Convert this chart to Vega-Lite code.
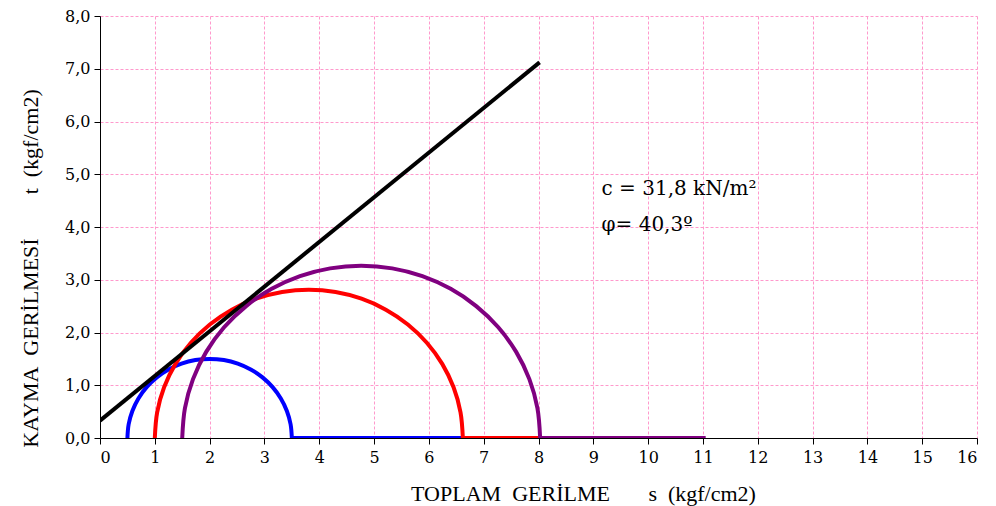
{
  "$schema": "https://vega.github.io/schema/vega-lite/v6.json",
  "width": 877,
  "height": 422,
  "autosize": {"type": "none"},
  "padding": {"left": 100, "top": 16, "right": 19, "bottom": 68},
  "background": "white",
  "config": {
    "view": {"stroke": null},
    "axis": {
      "labelColor": "#000",
      "titleColor": "#000",
      "titleFontWeight": "normal",
      "domainColor": "#000",
      "tickColor": "#000",
      "gridColor": "#ff99cc",
      "gridDash": [3, 2],
      "gridWidth": 1,
      "tickSize": 6
    }
  },
  "datasets": {
    "circles": [
      {"series": "A", "part": "A1", "i": 0, "s": 0.5, "t": 0},
      {"series": "A", "part": "A1", "i": 1, "s": 0.5228, "t": 0.2604},
      {"series": "A", "part": "A1", "i": 2, "s": 0.5905, "t": 0.513},
      {"series": "A", "part": "A1", "i": 3, "s": 0.701, "t": 0.75},
      {"series": "A", "part": "A1", "i": 4, "s": 0.851, "t": 0.9642},
      {"series": "A", "part": "A1", "i": 5, "s": 1.0358, "t": 1.149},
      {"series": "A", "part": "A1", "i": 6, "s": 1.25, "t": 1.299},
      {"series": "A", "part": "A1", "i": 7, "s": 1.487, "t": 1.4095},
      {"series": "A", "part": "A1", "i": 8, "s": 1.7396, "t": 1.4772},
      {"series": "A", "part": "A1", "i": 9, "s": 2.0, "t": 1.5},
      {"series": "A", "part": "A1", "i": 10, "s": 2.2604, "t": 1.4772},
      {"series": "A", "part": "A1", "i": 11, "s": 2.513, "t": 1.4095},
      {"series": "A", "part": "A1", "i": 12, "s": 2.75, "t": 1.299},
      {"series": "A", "part": "A1", "i": 13, "s": 2.9642, "t": 1.149},
      {"series": "A", "part": "A1", "i": 14, "s": 3.149, "t": 0.9642},
      {"series": "A", "part": "A1", "i": 15, "s": 3.299, "t": 0.75},
      {"series": "A", "part": "A1", "i": 16, "s": 3.4095, "t": 0.513},
      {"series": "A", "part": "A1", "i": 17, "s": 3.4772, "t": 0.2604},
      {"series": "A", "part": "A1", "i": 18, "s": 3.5, "t": 0},
      {"series": "A", "part": "A2", "i": 19, "s": 3.5, "t": 0},
      {"series": "A", "part": "A2", "i": 20, "s": 6.62, "t": 0},
      {"series": "B", "part": "B1", "i": 0, "s": 1.0, "t": 0},
      {"series": "B", "part": "B1", "i": 1, "s": 1.0427, "t": 0.4878},
      {"series": "B", "part": "B1", "i": 2, "s": 1.1694, "t": 0.961},
      {"series": "B", "part": "B1", "i": 3, "s": 1.3765, "t": 1.405},
      {"series": "B", "part": "B1", "i": 4, "s": 1.6575, "t": 1.8063},
      {"series": "B", "part": "B1", "i": 5, "s": 2.0037, "t": 2.1525},
      {"series": "B", "part": "B1", "i": 6, "s": 2.405, "t": 2.4335},
      {"series": "B", "part": "B1", "i": 7, "s": 2.849, "t": 2.6406},
      {"series": "B", "part": "B1", "i": 8, "s": 3.3222, "t": 2.7673},
      {"series": "B", "part": "B1", "i": 9, "s": 3.81, "t": 2.81},
      {"series": "B", "part": "B1", "i": 10, "s": 4.2978, "t": 2.7673},
      {"series": "B", "part": "B1", "i": 11, "s": 4.771, "t": 2.6406},
      {"series": "B", "part": "B1", "i": 12, "s": 5.215, "t": 2.4335},
      {"series": "B", "part": "B1", "i": 13, "s": 5.6163, "t": 2.1525},
      {"series": "B", "part": "B1", "i": 14, "s": 5.9625, "t": 1.8063},
      {"series": "B", "part": "B1", "i": 15, "s": 6.2435, "t": 1.405},
      {"series": "B", "part": "B1", "i": 16, "s": 6.4506, "t": 0.961},
      {"series": "B", "part": "B1", "i": 17, "s": 6.5773, "t": 0.4878},
      {"series": "B", "part": "B1", "i": 18, "s": 6.62, "t": 0},
      {"series": "B", "part": "B2", "i": 19, "s": 6.62, "t": 0},
      {"series": "B", "part": "B2", "i": 20, "s": 8.03, "t": 0},
      {"series": "C", "part": "C1", "i": 0, "s": 1.5, "t": 0},
      {"series": "C", "part": "C1", "i": 1, "s": 1.5496, "t": 0.5668},
      {"series": "C", "part": "C1", "i": 2, "s": 1.6969, "t": 1.1166},
      {"series": "C", "part": "C1", "i": 3, "s": 1.9375, "t": 1.6325},
      {"series": "C", "part": "C1", "i": 4, "s": 2.264, "t": 2.0987},
      {"series": "C", "part": "C1", "i": 5, "s": 2.6663, "t": 2.501},
      {"series": "C", "part": "C1", "i": 6, "s": 3.1325, "t": 2.8275},
      {"series": "C", "part": "C1", "i": 7, "s": 3.6484, "t": 3.0681},
      {"series": "C", "part": "C1", "i": 8, "s": 4.1982, "t": 3.2154},
      {"series": "C", "part": "C1", "i": 9, "s": 4.765, "t": 3.265},
      {"series": "C", "part": "C1", "i": 10, "s": 5.3318, "t": 3.2154},
      {"series": "C", "part": "C1", "i": 11, "s": 5.8816, "t": 3.0681},
      {"series": "C", "part": "C1", "i": 12, "s": 6.3975, "t": 2.8275},
      {"series": "C", "part": "C1", "i": 13, "s": 6.8637, "t": 2.501},
      {"series": "C", "part": "C1", "i": 14, "s": 7.266, "t": 2.0987},
      {"series": "C", "part": "C1", "i": 15, "s": 7.5925, "t": 1.6325},
      {"series": "C", "part": "C1", "i": 16, "s": 7.8331, "t": 1.1166},
      {"series": "C", "part": "C1", "i": 17, "s": 7.9804, "t": 0.5668},
      {"series": "C", "part": "C1", "i": 18, "s": 8.03, "t": 0},
      {"series": "C", "part": "C2", "i": 19, "s": 8.03, "t": 0},
      {"series": "C", "part": "C2", "i": 20, "s": 11.05, "t": 0},
      {"series": "D", "part": "D1", "i": 0, "s": 0, "t": 0.33},
      {"series": "D", "part": "D1", "i": 1, "s": 8.02, "t": 7.12}
    ],
    "notes": [
      {"s": 9.15, "t": 4.6, "label": "c = 31,8 kN/m²"},
      {"s": 9.15, "t": 3.93, "label": "φ= 40,3º"}
    ]
  },
  "layer": [
    {
      "data": {"name": "circles"},
      "mark": {"type": "line", "interpolate": "catmull-rom", "strokeCap": "butt", "strokeJoin": "round", "clip": true},
      "encoding": {
        "x": {
          "field": "s", "type": "quantitative",
          "scale": {"domain": [0, 16], "nice": false, "zero": false},
          "axis": {
            "values": [0,1,2,3,4,5,6,7,8,9,10,11,12,13,14,15,16],
            "labelFont": "DejaVu Serif",
            "labelFontSize": 16,
            "labelPadding": 5,
            "title": "TOPLAM\u00a0\u00a0GERİLME\u00a0\u00a0\u00a0\u00a0\u00a0\u00a0\u00a0s\u00a0\u00a0(kgf/cm2)",
            "titleFont": "Liberation Serif",
            "titleFontSize": 22,
            "titleX": 483,
            "titleY": 62,
            "titleAnchor": "middle",
            "titleBaseline": "alphabetic"
          }
        },
        "y": {
          "field": "t", "type": "quantitative",
          "scale": {"domain": [0, 8], "nice": false},
          "axis": {
            "values": [0,1,2,3,4,5,6,7,8],
            "labelExpr": "replace(format(datum.value, '.1f'), '.', ',')",
            "labelFont": "DejaVu Serif",
            "labelFontSize": 16,
            "labelPadding": 4,
            "title": "KAYMA\u00a0\u00a0GERİLMESİ\u00a0\u00a0\u00a0\u00a0\u00a0\u00a0\u00a0\u00a0t\u00a0\u00a0(kgf/cm2)",
            "titleFont": "Liberation Serif",
            "titleFontSize": 22,
            "titleX": -70,
            "titleY": 252,
            "titleAngle": -90,
            "titleAlign": "center",
            "titleBaseline": "middle"
          }
        },
        "color": {
          "field": "series", "type": "nominal",
          "scale": {"domain": ["A", "B", "C", "D"], "range": ["#0000ff", "#ff0000", "#800080", "#000000"]},
          "legend": null
        },
        "strokeWidth": {
          "field": "series", "type": "nominal",
          "scale": {"domain": ["A", "B", "C", "D"], "range": [4, 4, 4, 5]},
          "legend": null
        },
        "detail": {"field": "part", "type": "nominal"},
        "order": {"field": "i", "type": "quantitative"}
      }
    },
    {
      "data": {"name": "notes"},
      "mark": {"type": "text", "align": "left", "baseline": "alphabetic", "fontSize": 20, "font": "DejaVu Serif", "color": "#000"},
      "encoding": {
        "x": {"field": "s", "type": "quantitative"},
        "y": {"field": "t", "type": "quantitative"},
        "text": {"field": "label"}
      }
    }
  ]
}
